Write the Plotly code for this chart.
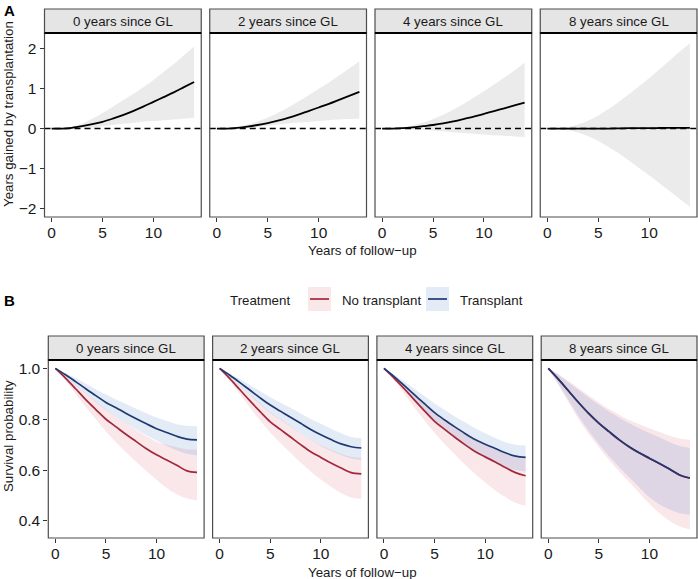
import plotly.graph_objects as go

W, H = 698, 579

years = list(range(15))
gl_labels = ["0 years since GL", "2 years since GL", "4 years since GL", "8 years since GL"]
x_ticks = [0, 5, 10]
gain_ticks = [-2, -1, 0, 1, 2]
gain_tick_text = ["\u22122", "\u22121", "0", "1", "2"]
surv_ticks = [0.4, 0.6, 0.8, 1.0]
surv_tick_text = ["0.4", "0.6", "0.8", "1.0"]
treatments = ["No transplant", "Transplant"]

# Panel A: years gained by transplantation
gain_mean = [
    [0, 0, 0.02, 0.06, 0.11, 0.17, 0.25, 0.34, 0.44, 0.55, 0.67, 0.79, 0.91, 1.04, 1.17],
    [0, 0, 0.02, 0.05, 0.09, 0.14, 0.20, 0.27, 0.35, 0.44, 0.53, 0.62, 0.72, 0.82, 0.92],
    [0, 0, 0.01, 0.03, 0.06, 0.09, 0.13, 0.18, 0.24, 0.30, 0.37, 0.44, 0.51, 0.58, 0.65],
    [0, 0, 0, 0, 0, 0, 0, 0.005, 0.01, 0.01, 0.01, 0.015, 0.02, 0.02, 0.02],
]
gain_upper = [
    [0, 0.01, 0.05, 0.13, 0.25, 0.39, 0.55, 0.71, 0.87, 1.04, 1.22, 1.42, 1.62, 1.84, 2.06],
    [0, 0.01, 0.04, 0.10, 0.18, 0.28, 0.40, 0.53, 0.68, 0.84, 1.00, 1.16, 1.33, 1.51, 1.69],
    [0, 0.01, 0.03, 0.08, 0.15, 0.24, 0.35, 0.48, 0.62, 0.78, 0.94, 1.11, 1.28, 1.46, 1.65],
    [0, 0.01, 0.04, 0.10, 0.20, 0.33, 0.49, 0.67, 0.86, 1.06, 1.27, 1.49, 1.71, 1.93, 2.14],
]
gain_lower = [
    [0, 0, 0.01, 0.02, 0.03, 0.06, 0.09, 0.12, 0.14, 0.17, 0.19, 0.21, 0.23, 0.25, 0.27],
    [0, 0, 0.01, 0.02, 0.04, 0.07, 0.10, 0.13, 0.15, 0.17, 0.19, 0.21, 0.23, 0.24, 0.25],
    [0, 0, -0.01, -0.02, -0.03, -0.05, -0.07, -0.09, -0.11, -0.13, -0.15, -0.17, -0.18, -0.20, -0.21],
    [0, -0.01, -0.04, -0.10, -0.19, -0.31, -0.46, -0.62, -0.80, -0.99, -1.18, -1.37, -1.57, -1.77, -1.96],
]

# Panel B: survival probability
nt_mean = [
    [1.0, 0.962, 0.920, 0.877, 0.838, 0.800, 0.770, 0.740, 0.712, 0.684, 0.660, 0.640, 0.619, 0.597, 0.591],
    [1.0, 0.960, 0.916, 0.872, 0.830, 0.790, 0.760, 0.730, 0.700, 0.672, 0.650, 0.628, 0.608, 0.590, 0.585],
    [1.0, 0.962, 0.920, 0.876, 0.833, 0.792, 0.760, 0.729, 0.700, 0.673, 0.652, 0.632, 0.610, 0.590, 0.578],
    [1.0, 0.957, 0.911, 0.865, 0.822, 0.784, 0.751, 0.719, 0.691, 0.667, 0.646, 0.625, 0.603, 0.580, 0.568],
]
nt_upper = [
    [1.0, 0.970, 0.937, 0.902, 0.870, 0.838, 0.810, 0.784, 0.758, 0.733, 0.712, 0.700, 0.690, 0.682, 0.680],
    [1.0, 0.968, 0.932, 0.896, 0.862, 0.828, 0.800, 0.773, 0.745, 0.720, 0.698, 0.680, 0.663, 0.652, 0.648],
    [1.0, 0.968, 0.932, 0.895, 0.859, 0.824, 0.795, 0.768, 0.743, 0.720, 0.700, 0.682, 0.665, 0.650, 0.645],
    [1.0, 0.978, 0.950, 0.922, 0.893, 0.866, 0.840, 0.818, 0.797, 0.780, 0.765, 0.750, 0.735, 0.724, 0.719],
]
nt_lower = [
    [1.0, 0.952, 0.900, 0.848, 0.800, 0.752, 0.710, 0.670, 0.632, 0.596, 0.562, 0.530, 0.505, 0.488, 0.480],
    [1.0, 0.951, 0.898, 0.845, 0.795, 0.748, 0.707, 0.668, 0.630, 0.595, 0.563, 0.535, 0.510, 0.492, 0.486],
    [1.0, 0.952, 0.900, 0.846, 0.795, 0.746, 0.703, 0.662, 0.622, 0.585, 0.552, 0.520, 0.494, 0.472, 0.460],
    [1.0, 0.935, 0.866, 0.800, 0.742, 0.690, 0.640, 0.595, 0.553, 0.510, 0.468, 0.430, 0.400, 0.378, 0.366],
]
tx_mean = [
    [1.0, 0.975, 0.948, 0.920, 0.893, 0.866, 0.845, 0.823, 0.802, 0.782, 0.763, 0.748, 0.733, 0.722, 0.719],
    [1.0, 0.973, 0.944, 0.914, 0.884, 0.856, 0.832, 0.808, 0.784, 0.760, 0.739, 0.720, 0.703, 0.692, 0.687],
    [1.0, 0.968, 0.933, 0.897, 0.861, 0.826, 0.797, 0.770, 0.744, 0.720, 0.702, 0.685, 0.668, 0.655, 0.650],
    [1.0, 0.958, 0.912, 0.866, 0.823, 0.785, 0.752, 0.720, 0.692, 0.668, 0.647, 0.626, 0.604, 0.581, 0.569],
]
tx_upper = [
    [1.0, 0.982, 0.962, 0.940, 0.918, 0.897, 0.878, 0.860, 0.841, 0.824, 0.807, 0.793, 0.780, 0.774, 0.772],
    [1.0, 0.980, 0.958, 0.934, 0.910, 0.887, 0.866, 0.845, 0.823, 0.801, 0.782, 0.763, 0.745, 0.730, 0.726],
    [1.0, 0.975, 0.948, 0.920, 0.891, 0.862, 0.836, 0.811, 0.788, 0.765, 0.745, 0.726, 0.710, 0.700, 0.697],
    [1.0, 0.975, 0.945, 0.915, 0.885, 0.857, 0.830, 0.806, 0.784, 0.764, 0.746, 0.728, 0.710, 0.695, 0.687],
]
tx_lower = [
    [1.0, 0.968, 0.934, 0.900, 0.868, 0.836, 0.810, 0.784, 0.760, 0.737, 0.716, 0.696, 0.678, 0.664, 0.658],
    [1.0, 0.966, 0.930, 0.894, 0.858, 0.825, 0.798, 0.771, 0.745, 0.719, 0.696, 0.676, 0.659, 0.646, 0.641],
    [1.0, 0.961, 0.918, 0.874, 0.832, 0.791, 0.757, 0.727, 0.698, 0.672, 0.652, 0.632, 0.614, 0.600, 0.595],
    [1.0, 0.940, 0.876, 0.812, 0.755, 0.703, 0.655, 0.612, 0.572, 0.532, 0.493, 0.465, 0.445, 0.430, 0.424],
]

# ---------- styling ----------
FONT = "Liberation Sans, Arial, Helvetica, sans-serif"
RED = "#A3283C"
BLUE = "#1F3A72"
RED_FILL = "rgba(205,70,90,0.13)"
BLUE_FILL = "rgba(70,120,195,0.15)"
GREY_FILL = "rgba(0,0,0,0.08)"
BORDER = "#4d4d4d"
STRIP_FILL = "#E5E5E5"
TICK_SIZE = 15.5
TEXT_SIZE = 13.3


def fx(px):
    return px / W


def fy(py):
    return 1 - py / H


A_x = [(44.5, 201.25), (209.75, 366.5), (375.0, 531.75), (540.25, 697.0)]
A_plot = (33, 217)
A_strip = (9, 33)
B_x = [(48.3, 204.1), (212.6, 368.4), (376.9, 532.7), (541.2, 697.0)]
B_plot = (360, 538)
B_strip = (336, 360)

fig = go.Figure()
layout = {}
shapes = []
annotations = []


def axref(n):
    return ("x" if n == 1 else f"x{n}"), ("y" if n == 1 else f"y{n}")


def setup_panel(n, xpx, ypx, spx, yrange, yticks, ytext, first, label):
    xa, ya = axref(n)
    xkey = "xaxis" if n == 1 else f"xaxis{n}"
    ykey = "yaxis" if n == 1 else f"yaxis{n}"
    layout[xkey] = dict(
        domain=[fx(xpx[0]), fx(xpx[1])], anchor=ya, range=[-0.7, 14.7],
        tickvals=x_ticks, ticks="outside", ticklen=4, tickcolor="#333333", tickwidth=1,
        ticklabelstandoff=-3,
        showgrid=False, zeroline=False, showline=False,
        tickfont=dict(family=FONT, size=TICK_SIZE, color="#1a1a1a"),
    )
    layout[ykey] = dict(
        domain=[fy(ypx[1]), fy(ypx[0])], anchor=xa, range=yrange,
        tickvals=yticks, ticktext=ytext,
        ticks="outside" if first else "", ticklen=4, tickcolor="#333333", tickwidth=1,
        showticklabels=first, showgrid=False, zeroline=False, showline=False,
        tickfont=dict(family=FONT, size=TICK_SIZE, color="#1a1a1a"),
    )
    shapes.append(dict(type="rect", xref=f"{xa} domain", yref=f"{ya} domain",
                       x0=0, x1=1, y0=0, y1=1, line=dict(color=BORDER, width=1.2),
                       fillcolor="rgba(0,0,0,0)", layer="above"))
    shapes.append(dict(type="rect", xref=f"{xa} domain", yref="paper",
                       x0=0, x1=1, y0=fy(spx[1]), y1=fy(spx[0]),
                       line=dict(color=BORDER, width=1.2), fillcolor=STRIP_FILL))
    shapes.append(dict(type="line", xref=f"{xa} domain", yref="paper",
                       x0=0, x1=1, y0=fy(spx[1]), y1=fy(spx[1]),
                       line=dict(color="black", width=2.2)))
    annotations.append(dict(xref=f"{xa} domain", yref="paper", x=0.5,
                            y=fy((spx[0] + spx[1]) / 2), text=label, showarrow=False,
                            font=dict(family=FONT, size=TEXT_SIZE, color="#1a1a1a"),
                            xanchor="center", yanchor="middle"))


# Panel A
for i in range(4):
    n = i + 1
    xa, ya = axref(n)
    setup_panel(n, A_x[i], A_plot, A_strip, [-2.22, 2.4], gain_ticks, gain_tick_text, i == 0, gl_labels[i])
    shapes.append(dict(type="line", xref=f"{xa} domain", yref=ya, x0=0, x1=1, y0=0, y1=0,
                       line=dict(color="black", width=1.5, dash="6px,4px"), layer="below"))
    fig.add_trace(go.Scatter(x=years, y=gain_upper[i], mode="lines", line=dict(width=0, shape="spline"),
                             xaxis=xa, yaxis=ya, showlegend=False, hoverinfo="skip"))
    fig.add_trace(go.Scatter(x=years, y=gain_lower[i], mode="lines", line=dict(width=0, shape="spline"),
                             fill="tonexty", fillcolor=GREY_FILL,
                             xaxis=xa, yaxis=ya, showlegend=False, hoverinfo="skip"))
    fig.add_trace(go.Scatter(x=years, y=gain_mean[i], mode="lines",
                             line=dict(color="black", width=1.8, shape="spline"),
                             xaxis=xa, yaxis=ya, showlegend=False))

# Panel B
for i in range(4):
    n = i + 5
    xa, ya = axref(n)
    setup_panel(n, B_x[i], B_plot, B_strip, [0.333, 1.033], surv_ticks, surv_tick_text, i == 0, gl_labels[i])
    for up, lo, fc in ((nt_upper[i], nt_lower[i], RED_FILL), (tx_upper[i], tx_lower[i], BLUE_FILL)):
        fig.add_trace(go.Scatter(x=years, y=up, mode="lines", line=dict(width=0, shape="spline"),
                                 xaxis=xa, yaxis=ya, showlegend=False, hoverinfo="skip"))
        fig.add_trace(go.Scatter(x=years, y=lo, mode="lines", line=dict(width=0, shape="spline"),
                                 fill="tonexty", fillcolor=fc,
                                 xaxis=xa, yaxis=ya, showlegend=False, hoverinfo="skip"))
    fig.add_trace(go.Scatter(x=years, y=nt_mean[i], mode="lines", name=treatments[0],
                             line=dict(color=RED, width=1.7, shape="spline"),
                             xaxis=xa, yaxis=ya, showlegend=False))
    fig.add_trace(go.Scatter(x=years, y=tx_mean[i], mode="lines", name=treatments[1],
                             line=dict(color=BLUE, width=1.7, shape="spline"),
                             xaxis=xa, yaxis=ya, showlegend=False))

# Axis titles
annotations.append(dict(xref="paper", yref="paper", x=fx(8), y=fy(114), text="Years gained by transplantation",
                        textangle=-90, showarrow=False, font=dict(family=FONT, size=TEXT_SIZE, color="#1a1a1a"),
                        xanchor="center", yanchor="middle"))
annotations.append(dict(xref="paper", yref="paper", x=fx(8), y=fy(436), text="Survival probability",
                        textangle=-90, showarrow=False, font=dict(family=FONT, size=TEXT_SIZE, color="#1a1a1a"),
                        xanchor="center", yanchor="middle"))
for ypos in (250, 572):
    annotations.append(dict(xref="paper", yref="paper", x=fx(362), y=fy(ypos), text="Years of follow\u2212up",
                            showarrow=False, font=dict(family=FONT, size=TEXT_SIZE, color="#1a1a1a"),
                            xanchor="center", yanchor="middle"))

# Panel letters
annotations.append(dict(xref="paper", yref="paper", x=fx(2), y=fy(10), text="<b>A</b>", showarrow=False,
                        font=dict(family=FONT, size=15, color="black"), xanchor="left", yanchor="middle"))
annotations.append(dict(xref="paper", yref="paper", x=fx(2), y=fy(300), text="<b>B</b>", showarrow=False,
                        font=dict(family=FONT, size=15, color="black"), xanchor="left", yanchor="middle"))

# Legend (manual)
annotations.append(dict(xref="paper", yref="paper", x=fx(228), y=fy(300), text="Treatment", showarrow=False,
                        font=dict(family=FONT, size=TEXT_SIZE, color="#1a1a1a"), xanchor="left", yanchor="middle"))
for (kx0, tx0, lab, fc, lc) in ((308, 340, treatments[0], RED_FILL, RED), (426, 458, treatments[1], BLUE_FILL, BLUE)):
    shapes.append(dict(type="rect", xref="paper", yref="paper", x0=fx(kx0), x1=fx(kx0 + 23),
                       y0=fy(311), y1=fy(287), line=dict(width=0), fillcolor=fc))
    shapes.append(dict(type="line", xref="paper", yref="paper", x0=fx(kx0 + 2), x1=fx(kx0 + 21),
                       y0=fy(299), y1=fy(299), line=dict(color=lc, width=1.7)))
    annotations.append(dict(xref="paper", yref="paper", x=fx(tx0), y=fy(300), text=lab, showarrow=False,
                            font=dict(family=FONT, size=TEXT_SIZE, color="#1a1a1a"), xanchor="left", yanchor="middle"))

fig.update_layout(
    width=W, height=H, margin=dict(l=0, r=0, t=0, b=0),
    paper_bgcolor="white", plot_bgcolor="white",
    shapes=shapes, annotations=annotations, showlegend=False,
    font=dict(family=FONT),
    **layout,
)

fig.write_html(
    "out.html",
    config={"displayModeBar": False},
    post_script="document.body.style.margin='0';document.body.style.overflow='hidden';"
                "document.documentElement.style.overflow='hidden';",
)
